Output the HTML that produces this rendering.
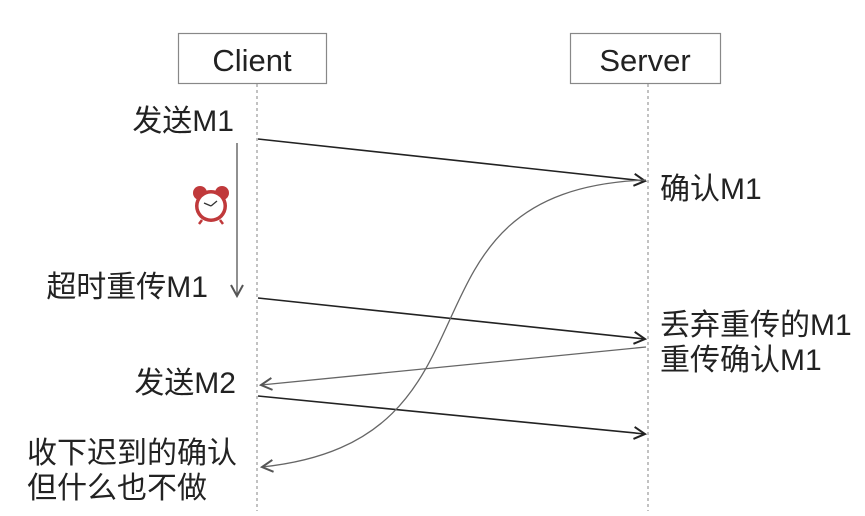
<!DOCTYPE html>
<html><head><meta charset="utf-8"><style>
html,body{margin:0;padding:0;background:#fff;}
svg text{font-family:"Liberation Sans","Noto Sans CJK SC",sans-serif;fill:#222;}
</style></head><body>
<svg width="865" height="511" viewBox="0 0 865 511" xmlns="http://www.w3.org/2000/svg">
<defs>
<marker id="a" markerWidth="14" markerHeight="14" refX="12" refY="7" orient="auto" markerUnits="userSpaceOnUse"><path d="M1,1 L12,7 L1,13" fill="none" stroke="#222" stroke-width="2"/></marker>
<marker id="g" markerWidth="14" markerHeight="14" refX="12" refY="7" orient="auto" markerUnits="userSpaceOnUse"><path d="M1,1 L12,7 L1,13" fill="none" stroke="#555" stroke-width="2"/></marker>
</defs>
<rect x="178.5" y="33.5" width="148" height="50" fill="#fff" stroke="#888" stroke-width="1.2"/>
<text x="252" y="71" font-size="31" text-anchor="middle">Client</text>
<rect x="570.5" y="33.5" width="150" height="50" fill="#fff" stroke="#888" stroke-width="1.2"/>
<text x="645" y="71" font-size="31" text-anchor="middle">Server</text>
<line x1="257" y1="84" x2="257" y2="511" stroke="#999" stroke-width="1.2" stroke-dasharray="3,3"/>
<line x1="648" y1="84" x2="648" y2="511" stroke="#999" stroke-width="1.2" stroke-dasharray="3,3"/>
<line x1="258" y1="139" x2="645" y2="181" stroke="#222" stroke-width="1.6" marker-end="url(#a)"/>
<line x1="258" y1="298" x2="645" y2="339" stroke="#222" stroke-width="1.6" marker-end="url(#a)"/>
<line x1="646" y1="347" x2="261" y2="385" stroke="#666" stroke-width="1.3" marker-end="url(#g)"/>
<line x1="258" y1="396" x2="645" y2="434" stroke="#222" stroke-width="1.6" marker-end="url(#a)"/>
<path d="M646,180 C380,190 520,440 262,467" fill="none" stroke="#666" stroke-width="1.3" marker-end="url(#g)"/>
<line x1="237" y1="143" x2="237" y2="296" stroke="#555" stroke-width="1.3" marker-end="url(#g)"/>
<text x="234" y="131" font-size="30" text-anchor="end">发送M1</text>
<text x="208" y="297" font-size="30" text-anchor="end">超时重传M1</text>
<text x="236" y="393" font-size="30" text-anchor="end">发送M2</text>
<text x="27" y="463" font-size="30">收下迟到的确认</text>
<text x="27" y="498" font-size="30">但什么也不做</text>
<text x="660" y="199" font-size="30">确认M1</text>
<text x="660" y="335" font-size="30">丢弃重传的M1</text>
<text x="660" y="370" font-size="30">重传确认M1</text>
<g transform="translate(211,206)">
<circle cx="-11" cy="-13" r="7" fill="#c0393b"/><circle cx="11" cy="-13" r="7" fill="#c0393b"/>
<circle r="16" fill="#c0393b"/><circle r="12.5" fill="#fff"/>
<line x1="0" y1="0" x2="-7" y2="-3" stroke="#333" stroke-width="1.3"/><line x1="0" y1="0" x2="6" y2="-5" stroke="#333" stroke-width="1.3"/>
<line x1="-9" y1="14" x2="-12" y2="18" stroke="#c0393b" stroke-width="2.5"/><line x1="9" y1="14" x2="12" y2="18" stroke="#c0393b" stroke-width="2.5"/>
</g>
</svg>
</body></html>
